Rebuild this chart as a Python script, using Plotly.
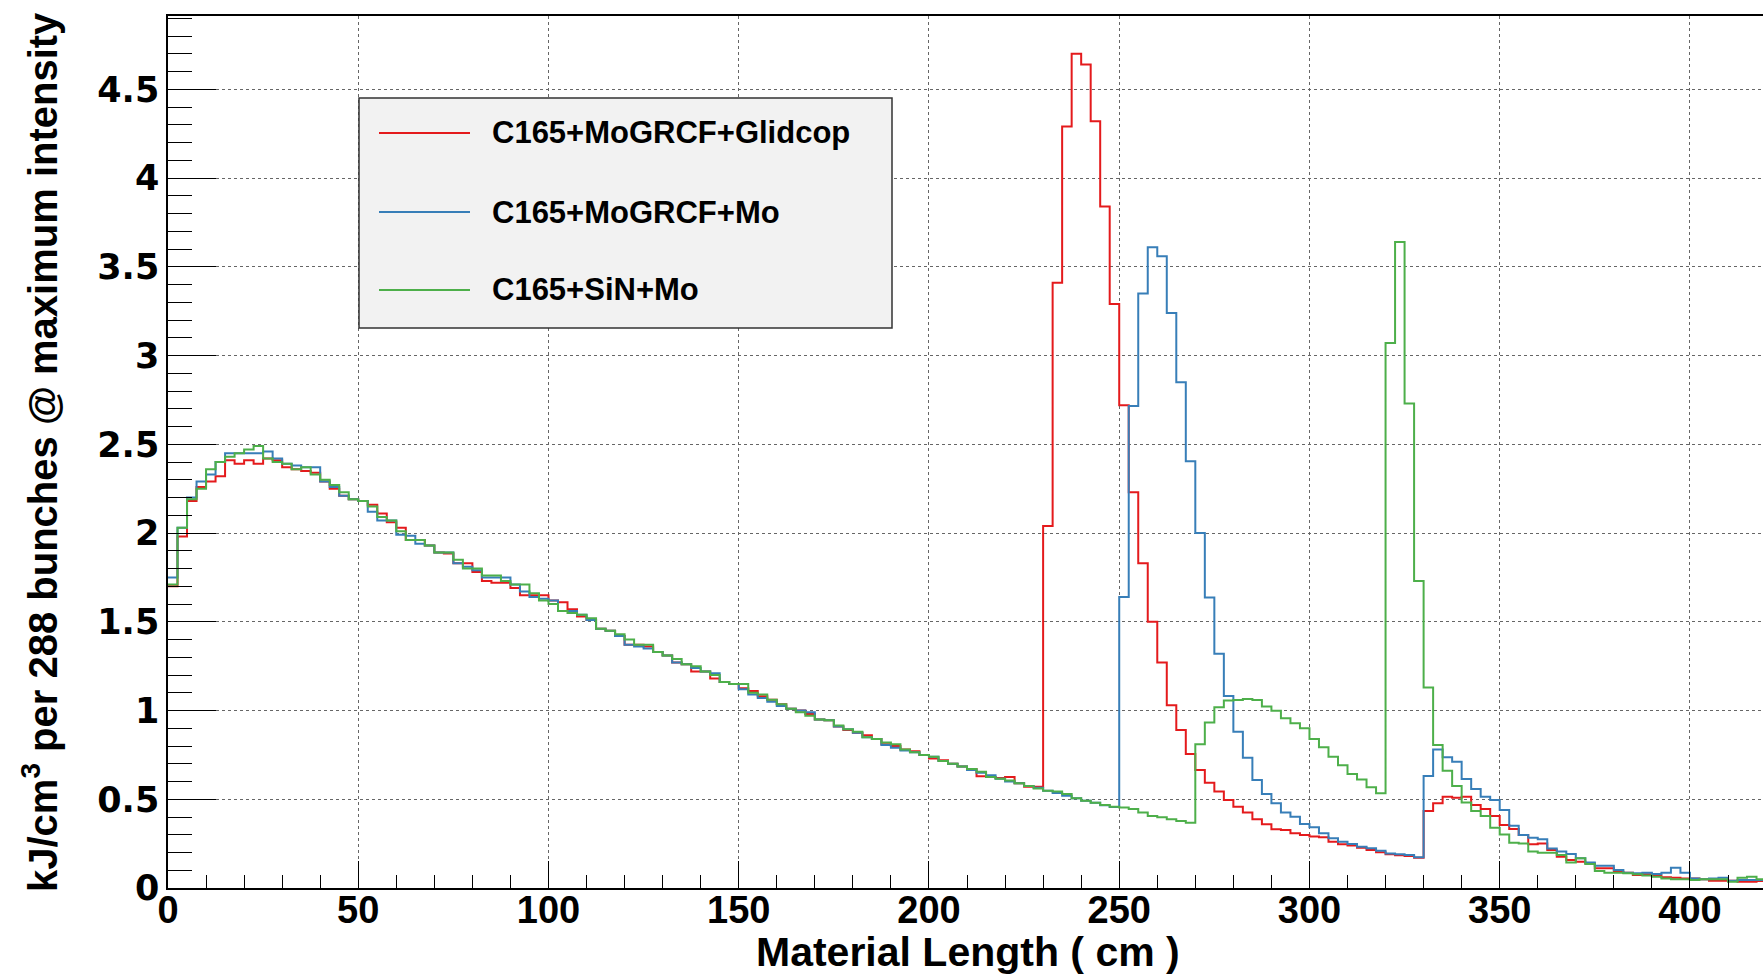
import numpy as np
import plotly.graph_objects as go

# Histogram binning (Material Length, cm)
bin_lo = 0.0
bin_hi = 420.0
n_bins = 168

series_names = ["C165+MoGRCF+Glidcop", "C165+MoGRCF+Mo", "C165+SiN+Mo"]

red_vals = [
    1.70, 1.98, 2.18, 2.26, 2.29, 2.32, 2.41, 2.39, 2.41, 2.39,
    2.42, 2.41, 2.37, 2.36, 2.35, 2.34, 2.29, 2.25, 2.21, 2.19,
    2.18, 2.16, 2.11, 2.06, 2.03, 1.96, 1.96, 1.93, 1.89, 1.885,
    1.83, 1.83, 1.78, 1.73, 1.72, 1.72, 1.69, 1.65, 1.65, 1.65,
    1.62, 1.61, 1.57, 1.53, 1.51, 1.46, 1.45, 1.42, 1.37, 1.37,
    1.36, 1.33, 1.31, 1.27, 1.26, 1.22, 1.22, 1.18, 1.16, 1.15,
    1.125, 1.11, 1.08, 1.06, 1.035, 1.01, 1.00, 0.98, 0.95, 0.945,
    0.91, 0.89, 0.875, 0.86, 0.84, 0.81, 0.80, 0.78, 0.77, 0.75,
    0.73, 0.72, 0.70, 0.685, 0.67, 0.63, 0.625, 0.62, 0.625, 0.59,
    0.57, 0.57, 2.04, 3.41, 4.29, 4.70, 4.64, 4.32, 3.84, 3.29,
    2.72, 2.23, 1.83, 1.50, 1.27, 1.03, 0.89, 0.755, 0.665, 0.593,
    0.543, 0.496, 0.458, 0.425, 0.387, 0.359, 0.331, 0.327, 0.308, 0.299,
    0.29, 0.286, 0.261, 0.246, 0.239, 0.227, 0.214, 0.201, 0.19, 0.185,
    0.18, 0.17, 0.434, 0.477, 0.514, 0.509, 0.514, 0.467, 0.445, 0.405,
    0.355, 0.332, 0.298, 0.246, 0.251, 0.214, 0.176, 0.158, 0.148, 0.139,
    0.111, 0.111, 0.092, 0.086, 0.073, 0.077, 0.070, 0.060, 0.058, 0.054,
    0.054, 0.049, 0.041, 0.041, 0.041, 0.035, 0.035, 0.040,
]

blue_vals = [
    1.75, 2.03, 2.20, 2.29, 2.33, 2.40, 2.45, 2.45, 2.45, 2.45,
    2.46, 2.42, 2.39, 2.38, 2.37, 2.37, 2.29, 2.26, 2.21, 2.19,
    2.18, 2.12, 2.07, 2.07, 1.99, 1.985, 1.94, 1.93, 1.89, 1.89,
    1.83, 1.81, 1.79, 1.75, 1.75, 1.75, 1.71, 1.67, 1.64, 1.63,
    1.62, 1.56, 1.56, 1.54, 1.51, 1.46, 1.45, 1.42, 1.37, 1.36,
    1.35, 1.33, 1.31, 1.27, 1.26, 1.24, 1.22, 1.21, 1.16, 1.15,
    1.12, 1.09, 1.07, 1.05, 1.025, 1.01, 1.00, 0.99, 0.95, 0.945,
    0.91, 0.895, 0.875, 0.85, 0.84, 0.805, 0.79, 0.775, 0.765, 0.75,
    0.74, 0.715, 0.70, 0.685, 0.665, 0.65, 0.635, 0.615, 0.60, 0.59,
    0.575, 0.565, 0.548, 0.535, 0.52, 0.505, 0.492, 0.481, 0.466, 0.456,
    1.64, 2.715, 3.35, 3.61, 3.56, 3.24, 2.85, 2.405, 2.00, 1.637,
    1.32, 1.082, 0.881, 0.734, 0.609, 0.53, 0.477, 0.425, 0.402, 0.361,
    0.342, 0.308, 0.28, 0.261, 0.248, 0.233, 0.224, 0.21, 0.195, 0.19,
    0.186, 0.173, 0.631, 0.781, 0.736, 0.712, 0.614, 0.558, 0.514, 0.496,
    0.439, 0.351, 0.298, 0.283, 0.274, 0.223, 0.205, 0.191, 0.167, 0.143,
    0.126, 0.126, 0.101, 0.086, 0.083, 0.086, 0.079, 0.086, 0.114, 0.086,
    0.054, 0.049, 0.054, 0.058, 0.041, 0.045, 0.045, 0.045,
]

green_vals = [
    1.71, 2.03, 2.19, 2.25, 2.36, 2.40, 2.43, 2.45, 2.47, 2.49,
    2.42, 2.40, 2.39, 2.36, 2.37, 2.33, 2.30, 2.27, 2.23, 2.19,
    2.18, 2.15, 2.09, 2.07, 2.01, 1.96, 1.96, 1.93, 1.89, 1.89,
    1.85, 1.80, 1.80, 1.76, 1.76, 1.73, 1.71, 1.71, 1.66, 1.62,
    1.60, 1.56, 1.55, 1.54, 1.52, 1.46, 1.45, 1.43, 1.40, 1.37,
    1.37, 1.33, 1.31, 1.29, 1.26, 1.25, 1.22, 1.20, 1.16, 1.15,
    1.15, 1.10, 1.09, 1.06, 1.035, 1.01, 0.99, 0.97, 0.95, 0.945,
    0.915, 0.895, 0.88, 0.85, 0.84, 0.82, 0.81, 0.78, 0.765, 0.75,
    0.74, 0.715, 0.70, 0.685, 0.67, 0.655, 0.625, 0.615, 0.605, 0.59,
    0.575, 0.56, 0.548, 0.543, 0.53, 0.505, 0.492, 0.481, 0.468, 0.458,
    0.453, 0.445, 0.425, 0.406, 0.398, 0.387, 0.378, 0.368, 0.81, 0.933,
    1.018, 1.056, 1.059, 1.065, 1.059, 1.022, 0.999, 0.956, 0.928, 0.90,
    0.84, 0.793, 0.74, 0.691, 0.642, 0.612, 0.567, 0.534, 3.07, 3.64,
    2.73, 1.73, 1.13, 0.805, 0.661, 0.575, 0.482, 0.434, 0.405, 0.34,
    0.302, 0.255, 0.251, 0.205, 0.199, 0.199, 0.186, 0.144, 0.167, 0.135,
    0.096, 0.086, 0.086, 0.083, 0.077, 0.070, 0.064, 0.054, 0.049, 0.049,
    0.045, 0.050, 0.050, 0.050, 0.035, 0.058, 0.064, 0.050,
]

x_tick_vals = [0, 50, 100, 150, 200, 250, 300, 350, 400]
y_tick_vals = [0, 0.5, 1, 1.5, 2, 2.5, 3, 3.5, 4, 4.5]
y_tick_text = ["0", "0.5", "1", "1.5", "2", "2.5", "3", "3.5", "4", "4.5"]

x_title = "Material Length ( cm )"
y_title = "kJ/cm<sup>3</sup> per 288 bunches @ maximum intensity"

colors = ["#e41a1c", "#377eb8", "#4daf4a"]

edges = np.linspace(bin_lo, bin_hi, n_bins + 1)

fig = go.Figure()
for name, vals, col in zip(series_names, [red_vals, blue_vals, green_vals], colors):
    yy = list(vals) + [vals[-1]]
    fig.add_trace(go.Scatter(
        x=edges, y=yy, mode="lines", name=name,
        line=dict(color=col, width=2, shape="hv"),
        showlegend=False, hoverinfo="skip",
    ))

# plot area in pixels
L, T, B = 168, 16, 86
W, H = 1763, 974
pw = W - L
ph = H - T - B

def px_x(p):
    return (p - L) / pw

def px_y(p):
    return (H - B - p) / ph

fig.update_layout(
    width=W, height=H,
    margin=dict(l=L, r=0, t=T, b=B, pad=0, autoexpand=False),
    paper_bgcolor="white", plot_bgcolor="white",
    xaxis=dict(
        range=[0, 419.2], tickvals=x_tick_vals,
        ticks="inside", ticklen=27, tickwidth=1, tickcolor="black",
        minor=dict(ticks="inside", ticklen=13, dtick=10, tickcolor="black", tickwidth=1, showgrid=False),
        showgrid=True, gridcolor="#666666", griddash="dot", gridwidth=1,
        zeroline=False, showline=True, linecolor="black", linewidth=1.5, mirror=True,
        tickfont=dict(family="Liberation Sans", size=38, color="black", weight="bold"),
        ticklabelstandoff=-12, automargin=False,
    ),
    yaxis=dict(
        range=[0, 4.913], tickvals=y_tick_vals, ticktext=y_tick_text,
        ticks="inside", ticklen=48, tickwidth=1, tickcolor="black",
        minor=dict(ticks="inside", ticklen=24, dtick=0.1, tickcolor="black", tickwidth=1, showgrid=False),
        showgrid=True, gridcolor="#666666", griddash="dot", gridwidth=1,
        zeroline=False, showline=True, linecolor="black", linewidth=1.5, mirror=False,
        tickfont=dict(family="DejaVu Sans", size=35, color="black", weight="bold"),
        ticklabelstandoff=0, automargin=False,
    ),
)

# axis titles
fig.add_annotation(
    text=x_title, xref="paper", yref="paper", x=px_x(968), y=px_y(952),
    xanchor="center", yanchor="middle", showarrow=False,
    font=dict(family="Liberation Sans", size=41, color="black", weight="bold"),
)
fig.add_annotation(
    text=y_title, xref="paper", yref="paper", x=px_x(40), y=px_y(452),
    xanchor="center", yanchor="middle", showarrow=False, textangle=-90,
    font=dict(family="Liberation Sans", size=40, color="black", weight="bold"),
)

# legend box (ROOT style)
box = dict(x0=px_x(359), x1=px_x(892), y0=px_y(328), y1=px_y(98))
fig.add_shape(type="rect", xref="paper", yref="paper", **box,
              fillcolor="#f2f2f2", line=dict(color="#333333", width=1.5), layer="above")
entry_y = [133, 212, 290]
for name, col, ey in zip(series_names, colors, entry_y):
    fig.add_shape(type="line", xref="paper", yref="paper",
                  x0=px_x(379), x1=px_x(470), y0=px_y(ey), y1=px_y(ey),
                  line=dict(color=col, width=2), layer="above")
    fig.add_annotation(
        text=name, xref="paper", yref="paper", x=px_x(490), y=px_y(ey),
        xanchor="left", yanchor="middle", showarrow=False,
        font=dict(family="Liberation Sans", size=31, color="black", weight="bold"),
    )

fig.write_html("out.html", config={"displayModeBar": False},
               post_script="document.body.style.margin='0';")
